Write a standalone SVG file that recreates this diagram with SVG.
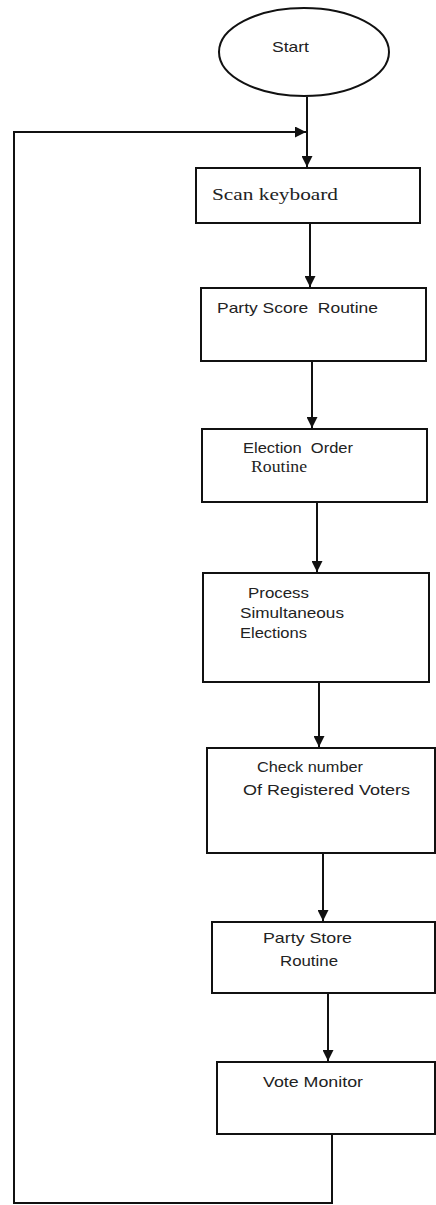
<svg xmlns="http://www.w3.org/2000/svg" width="436" height="1205" viewBox="0 0 436 1205">
<style>
.n{fill:#fff;stroke:#111;stroke-width:2}
.c{fill:none;stroke:#111;stroke-width:2}
.s{font-family:"Liberation Sans",Arial,sans-serif;font-size:15px;fill:#222}
.r{font-family:"Liberation Serif","Times New Roman",serif;font-size:16px;fill:#222}
</style>
<defs>
<marker id="a" viewBox="0 0 10 10" refX="10" refY="5" markerWidth="11" markerHeight="11" markerUnits="userSpaceOnUse" orient="auto"><path d="M0,0 L10,5 L0,10 z" fill="#111"/></marker>
</defs>
<rect width="436" height="1205" fill="#fff"/>
<g id="connectors">
<line class="c" x1="307" y1="97" x2="307" y2="167" marker-end="url(#a)"/>
<polyline class="c" points="332,1134 332,1203 14,1203 14,132 306,132" marker-end="url(#a)"/>
<line class="c" x1="310" y1="223" x2="310" y2="287" marker-end="url(#a)"/>
<line class="c" x1="312" y1="361" x2="312" y2="428" marker-end="url(#a)"/>
<line class="c" x1="317" y1="502" x2="317" y2="572" marker-end="url(#a)"/>
<line class="c" x1="319" y1="682" x2="319" y2="747" marker-end="url(#a)"/>
<line class="c" x1="323" y1="853" x2="323" y2="921" marker-end="url(#a)"/>
<line class="c" x1="328" y1="993" x2="328" y2="1061" marker-end="url(#a)"/>
</g>
<g id="start">
<ellipse class="n" cx="304" cy="52" rx="85" ry="44"/>
<text class="s" x="272" y="52" textLength="37" lengthAdjust="spacingAndGlyphs">Start</text>
</g>
<g id="scan">
<rect class="n" x="196" y="168" width="224" height="55"/>
<text class="r" x="212" y="200" textLength="126" lengthAdjust="spacingAndGlyphs">Scan keyboard</text>
</g>
<g id="partyscore">
<rect class="n" x="201" y="288" width="225" height="73"/>
<text class="s" x="217" y="313" textLength="161" lengthAdjust="spacingAndGlyphs" xml:space="preserve">Party Score  Routine</text>
</g>
<g id="election">
<rect class="n" x="202" y="429" width="225" height="73"/>
<text class="s" x="243" y="453" textLength="110" lengthAdjust="spacingAndGlyphs" xml:space="preserve">Election  Order</text>
<text class="r" x="251" y="472" font-size="12" textLength="56" lengthAdjust="spacingAndGlyphs">Routine</text>
</g>
<g id="process">
<rect class="n" x="203" y="573" width="226" height="109"/>
<text class="s" x="248" y="598" textLength="61" lengthAdjust="spacingAndGlyphs">Process</text>
<text class="s" x="240" y="618" textLength="104" lengthAdjust="spacingAndGlyphs">Simultaneous</text>
<text class="s" x="240" y="638" textLength="67" lengthAdjust="spacingAndGlyphs">Elections</text>
</g>
<g id="check">
<rect class="n" x="207" y="748" width="228" height="105"/>
<text class="s" x="257" y="772" textLength="106" lengthAdjust="spacingAndGlyphs">Check number</text>
<text class="s" x="243" y="795" textLength="167" lengthAdjust="spacingAndGlyphs">Of Registered Voters</text>
</g>
<g id="partystore">
<rect class="n" x="212" y="922" width="223" height="71"/>
<text class="s" x="263" y="943" textLength="89" lengthAdjust="spacingAndGlyphs">Party Store</text>
<text class="s" x="280" y="966" textLength="58" lengthAdjust="spacingAndGlyphs">Routine</text>
</g>
<g id="vote">
<rect class="n" x="217" y="1062" width="218" height="72"/>
<text class="s" x="263" y="1087" textLength="100" lengthAdjust="spacingAndGlyphs">Vote Monitor</text>
</g>
</svg>
